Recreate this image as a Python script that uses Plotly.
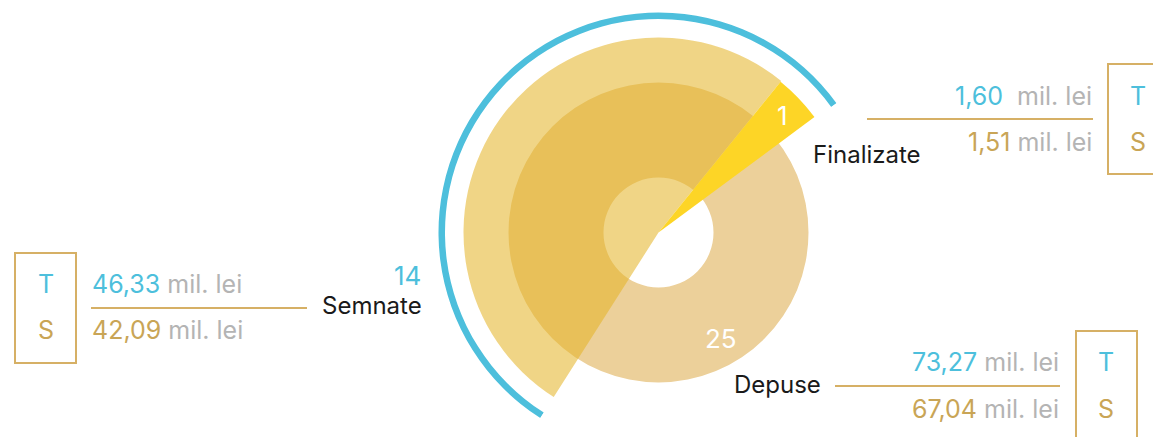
import math
import plotly.graph_objects as go

W, H = 1161, 437
OFF = 8  # marginea implicita a paginii (body) muta totul cu 8px

# date
categorii = ["Semnate", "Depuse", "Finalizate"]
numar = [14, 25, 1]
valoare_t = [46.33, 73.27, 1.60]
valoare_s = [42.09, 67.04, 1.51]

ALBASTRU = "#4dbfdc"
AURIU = "#c9a556"
GRI = "#b4b4b4"
NEGRU = "#1a1a1a"
FONT = "Inter"

# geometrie (px in imagine)
CX, CY = 658.5, 232.5
R1 = 200          # raza polar principal
R2 = 222          # raza polar pentru arcul albastru
SECTOR2 = [36, 237.5]


def px(x, y):
    return (x - OFF) / W, 1 - (y - OFF) / H


def lei(v):
    return f"{v:.2f}".replace(".", ",")


fig = go.Figure()

# inel Depuse
fig.add_trace(go.Barpolar(
    r=[150 - 55], base=[55], theta=[0], width=[360],
    marker=dict(color="#ecd09a", line=dict(width=0)),
    name=categorii[1], hoverinfo="skip", subplot="polar"
))
# felie Semnate
fig.add_trace(go.Barpolar(
    r=[195], base=[0], theta=[(51 + 237.5) / 2], width=[237.5 - 51],
    marker=dict(color="rgba(228,180,40,0.56)", line=dict(width=0)),
    name=categorii[0], hoverinfo="skip", subplot="polar"
))
# felie Finalizate
fig.add_trace(go.Barpolar(
    r=[194], base=[0], theta=[(36.5 + 51) / 2], width=[51 - 36.5],
    marker=dict(color="#fdd526", line=dict(width=0)),
    name=categorii[2], hoverinfo="skip", subplot="polar"
))
# arc albastru
fig.add_trace(go.Barpolar(
    r=[6.5], base=[213.5], theta=[sum(SECTOR2) / 2], width=[SECTOR2[1] - SECTOR2[0]],
    marker=dict(color=ALBASTRU, line=dict(width=0)),
    hoverinfo="skip", subplot="polar2"
))

ax_off = dict(visible=False, showgrid=False, showline=False, showticklabels=False, ticks="")

cx, cy = CX - OFF, CY - OFF
# domeniu polar 2 (sector) calculat ca centrul sa cada in cx, cy
x0b, x1b = -1, math.cos(math.radians(SECTOR2[0]))
y0b, y1b = math.sin(math.radians(SECTOR2[1])), 1
d2x = [(cx + R2 * x0b) / W, (cx + R2 * x1b) / W]
d2y = [1 - (cy - R2 * y0b) / H, 1 - (cy - R2 * y1b) / H]

fig.update_layout(
    width=W, height=H,
    margin=dict(l=0, r=0, t=0, b=0),
    paper_bgcolor="white",
    plot_bgcolor="white",
    showlegend=False,
    polar=dict(
        domain=dict(x=[(cx - R1) / W, (cx + R1) / W], y=[1 - (cy + R1) / H, 1 - (cy - R1) / H]),
        bgcolor="rgba(0,0,0,0)",
        radialaxis=dict(range=[0, R1], **ax_off),
        angularaxis=dict(**ax_off),
    ),
    polar2=dict(
        domain=dict(x=d2x, y=d2y),
        sector=SECTOR2,
        bgcolor="rgba(0,0,0,0)",
        radialaxis=dict(range=[0, R2], **ax_off),
        angularaxis=dict(**ax_off),
    ),
)


def text(x, y, s, color=NEGRU, size=22, xanchor="center"):
    ax, ay = px(x, y)
    fig.add_annotation(x=ax, y=ay, xref="paper", yref="paper", text=s, showarrow=False,
                       xanchor=xanchor, yanchor="middle",
                       font=dict(family=FONT, size=size, color=color))


def rect(x0, y0, x1, y1):
    a0, b0 = px(x0, y0)
    a1, b1 = px(x1, y1)
    fig.add_shape(type="rect", xref="paper", yref="paper", x0=a0, y0=b0, x1=a1, y1=b1,
                  line=dict(color="#d6b065", width=2))


def linie(x0, x1, y):
    a0, b = px(x0, y)
    a1, _ = px(x1, y)
    fig.add_shape(type="line", xref="paper", yref="paper", x0=a0, y0=b, x1=a1, y1=b,
                  line=dict(color="#d6b065", width=2))


def valoare(v, c, spatiu=" "):
    return f"<span style='color:{c}'>{lei(v)}</span>{spatiu}mil. lei"


# numere pe grafic
text(423, 275, str(numar[0]), ALBASTRU, 26, "right")
text(424, 305, categorii[0], NEGRU, 24, "right")
text(721, 338, str(numar[1]), "white", 26)
text(732, 384, categorii[1], NEGRU, 24, "left")
text(782, 116, str(numar[2]), "white", 26)
text(811, 154, categorii[2], NEGRU, 24, "left")

# Semnate (stanga)
rect(15, 253, 76, 363)
text(46, 284, "T", ALBASTRU, 25)
text(46, 330, "S", AURIU, 25)
linie(91, 307, 308)
text(90, 284, valoare(valoare_t[0], ALBASTRU), GRI, 25, "left")
text(90, 330, valoare(valoare_s[0], AURIU), GRI, 25, "left")

# Finalizate (dreapta sus)
rect(1108, 64, 1169, 174)
text(1138, 96, "T", ALBASTRU, 25)
text(1138, 142, "S", AURIU, 25)
linie(867, 1093, 119)
text(1094, 96, valoare(valoare_t[2], ALBASTRU, "  "), GRI, 25, "right")
text(1094, 142, valoare(valoare_s[2], AURIU), GRI, 25, "right")

# Depuse (dreapta jos)
rect(1076, 331, 1137, 450)
text(1106, 362, "T", ALBASTRU, 25)
text(1106, 409, "S", AURIU, 25)
linie(835, 1060, 386)
text(1061, 362, valoare(valoare_t[1], ALBASTRU), GRI, 25, "right")
text(1061, 409, valoare(valoare_s[1], AURIU), GRI, 25, "right")

fig.write_html("out.html")
